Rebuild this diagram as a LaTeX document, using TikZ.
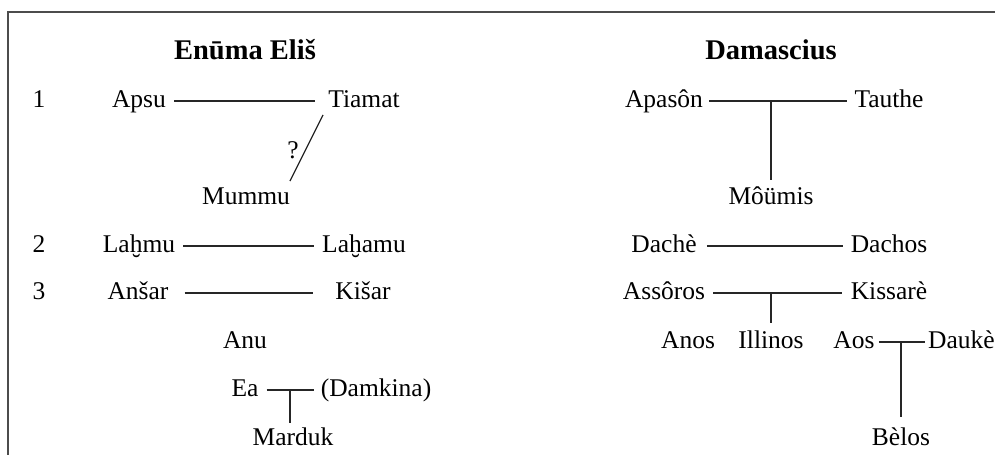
\documentclass[tikz,border=0pt]{standalone}
\usepackage{fontspec}
\setmainfont{Liberation Serif}
\begin{document}
\begin{tikzpicture}[x=1pt,y=-1pt,
  lbl/.style={inner sep=0pt, anchor=base, text height=12pt, text depth=0pt,
    font=\fontsize{25.5}{30}\selectfont},
  ttl/.style={inner sep=0pt, anchor=base, font=\fontsize{28.5}{34}\selectfont\bfseries},
  conn/.style={line width=1.3pt, black!85},
  frm/.style={line width=2pt, black!70, line join=miter}]
\useasboundingbox (0,0) rectangle (995,455);
% frame
\coordinate (ftr) at (995,12);
\coordinate (ftl) at (8,12);
\coordinate (fbl) at (8,455);
\draw[frm] (ftr) -- (ftl) -- (fbl);
% titles
\node[ttl] (t1) at (245,59) {Enūma Eliš};
\node[ttl] (t2) at (771,59) {Damascius};
% numbers
\node[lbl] (n1) at (39,107) {1};
\node[lbl] (n2) at (39,252) {2};
\node[lbl] (n3) at (39,299) {3};
% left column
\node[lbl] (apsu) at (139,107) {Apsu};
\node[lbl] (tiamat) at (364,107) {Tiamat};
\node[lbl] (mummu) at (246,204) {Mummu};
\node[lbl] (q) at (293,158) {?};
\node[lbl] (lahmu) at (139,252) {Laḫmu};
\node[lbl] (lahamu) at (364,252) {Laḫamu};
\node[lbl] (ansar) at (138,299) {Anšar};
\node[lbl] (kisar) at (363,299) {Kišar};
\node[lbl] (anu) at (245,348) {Anu};
\node[lbl] (ea) at (245,396) {Ea};
\node[lbl] (damkina) at (376,396) {(Damkina)};
\node[lbl] (marduk) at (293,445) {Marduk};
% right column
\node[lbl] (apason) at (664,107) {Apasôn};
\node[lbl] (tauthe) at (889,107) {Tauthe};
\node[lbl] (moumis) at (771,204) {Môümis};
\node[lbl] (dache) at (664,252) {Dachè};
\node[lbl] (dachos) at (889,252) {Dachos};
\node[lbl] (assoros) at (664,299) {Assôros};
\node[lbl] (kissare) at (889,299) {Kissarè};
\node[lbl] (anos) at (688,348) {Anos};
\node[lbl] (illinos) at (771,348) {Illinos};
\node[lbl] (aos) at (854,348) {Aos};
\node[lbl, anchor=base west] (dauke) at (928,348) {Daukè};
\node[lbl] (belos) at (901,445) {Bèlos};
% connectors left
\draw[conn] ([xshift=8pt]apsu.east) -- ([xshift=-13pt]tiamat.west);
\draw[conn] ([shift={(-41pt,-8pt)}]tiamat.base) -- ([shift={(44pt,23pt)}]mummu.base);
\draw[conn] ([xshift=8pt]lahmu.east) -- ([xshift=-8pt]lahamu.west);
\draw[conn] ([xshift=16pt]ansar.east) -- ([xshift=-22pt]kisar.west);
\draw[conn] ([xshift=8pt]ea.east) -- ([xshift=-7pt]damkina.west);
\draw[conn] ([xshift=-3pt]marduk.north |- ea.east) -- ([shift={(-3pt,10pt)}]marduk.north);
% connectors right
\draw[conn] ([xshift=6pt]apason.east) -- ([xshift=-7pt]tauthe.west);
\draw[conn] (moumis.north |- apason.east) -- ([yshift=12pt]moumis.north);
\draw[conn] ([xshift=10pt]dache.east) -- ([xshift=-8pt]dachos.west);
\draw[conn] ([xshift=8pt]assoros.east) -- ([xshift=-9pt]kissare.west);
\draw[conn] (illinos.north |- assoros.east) -- ([yshift=13pt]illinos.north);
\draw[conn] ([xshift=4pt]aos.east) -- ([xshift=-3pt]dauke.west);
\draw[conn] (belos.north |- aos.east) -- ([yshift=16pt]belos.north);
\end{tikzpicture}
\end{document}
